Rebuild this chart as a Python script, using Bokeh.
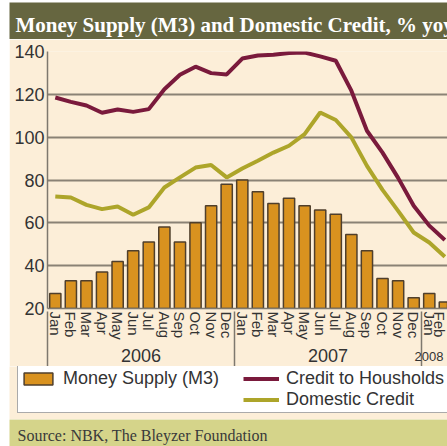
from bokeh.plotting import figure
from bokeh.models import LinearAxis, FixedTicker, Legend, LegendItem, Label
from bokeh.layouts import column
from bokeh.embed import file_html
from bokeh.resources import INLINE

# ---------------- data ----------------
months = ["Jan", "Feb", "Mar", "Apr", "May", "Jun", "Jul", "Aug", "Sep", "Oct", "Nov", "Dec",
          "Jan", "Feb", "Mar", "Apr", "May", "Jun", "Jul", "Aug", "Sep", "Oct", "Nov", "Dec",
          "Jan", "Feb"]
years = ["2006", "2007", "2008"]
money_supply = [27, 33, 33, 37, 42, 47, 51, 58, 51, 60, 68, 78,
                80, 74.5, 69, 71.5, 68, 66, 64, 54.5, 47, 34, 33, 25,
                27, 23]
credit_households = [118.5, 116.5, 114.8, 111.4, 112.9, 111.8, 113.1, 122.4, 129.1, 132.9, 129.9, 129.3,
                     136.7, 138.1, 138.5, 139.3, 139.5, 137.7, 135.7, 121.7, 103, 92.8, 81, 68,
                     58.7, 52]
domestic_credit = [72.3, 71.8, 68.4, 66.4, 67.6, 63.8, 67.2, 76.5, 81.2, 85.8, 87, 81.2,
                   85.4, 89, 92.8, 96, 101.4, 111.5, 108, 99.9, 86.6, 75.4, 65.6, 55.5,
                   50.8, 44.2]
y_ticks = [20, 40, 60, 80, 100, 120, 140]
title_text = "Money Supply (M3) and Domestic Credit, % yoy"
source_text = "Source: NBK, The Bleyzer Foundation"
series_names = ["Money Supply (M3)", "Credit to Housholds", "Domestic Credit"]

# ---------------- styles ----------------
CREAM = "#FCEED8"
HEAD = "#666640"
FOOT = "#D5D48A"
BAR = "#D9921F"
BAR_EDGE = "#4F3F2C"
MAROON = "#7A1A3C"
OLIVE = "#ADA52A"
GRID = "#8A8275"
AXIS = "#7E786E"
TEXT = "#333333"
SANS = "Liberation Sans"
SERIF = "Liberation Serif"

idx = list(range(len(months)))
group_starts = [-0.5, 11.5, 23.5]
year_centers = [5.5, 17.5, 24.5]


def blank_figure(height, fill, **kw):
    f = figure(width=438, height=height, x_axis_type=None, y_axis_type=None,
               output_backend="svg", toolbar_location=None, min_border=0,
               background_fill_color=fill, border_fill_color=fill,
               outline_line_color=None, frame_align=False, **kw)
    return f


# ---------------- header ----------------
header = blank_figure(37, HEAD, margin=(2, 0, 0, 9))
header.add_layout(Label(x=6, y=15, x_units="screen", y_units="screen", text=title_text,
                        text_color="white", text_font=SERIF, text_font_style="bold",
                        text_font_size="21px", text_baseline="middle"))

# ---------------- main chart ----------------
main = figure(width=438, height=327, x_range=(-0.5, 25.17), y_range=(20, 140),
              output_backend="svg", toolbar_location=None,
              min_border_left=38, min_border_top=12, min_border_bottom=58, min_border_right=0,
              background_fill_color=CREAM, border_fill_color=CREAM,
              outline_line_color=None, margin=(0, 0, 0, 9), frame_align=False)

main.xgrid.visible = False
main.ygrid.ticker = FixedTicker(ticks=y_ticks)
main.ygrid.grid_line_color = GRID
main.ygrid.grid_line_width = 2

yax = main.yaxis[0]
yax.ticker = FixedTicker(ticks=y_ticks)
yax.major_tick_out = 0
yax.major_tick_in = 0
yax.minor_tick_out = 0
yax.minor_tick_in = 0
yax.axis_line_color = AXIS
yax.axis_line_width = 1.5
yax.major_label_standoff = 3
yax.major_label_text_font = SANS
yax.major_label_text_font_size = "18px"
yax.major_label_text_color = TEXT

# month labels
xax = main.xaxis[0]
xax.ticker = FixedTicker(ticks=idx)
xax.major_label_overrides = {i: m for i, m in enumerate(months)}
xax.major_label_orientation = "vertical"
xax.major_tick_out = 0
xax.major_tick_in = 0
xax.minor_tick_in = 0
xax.minor_tick_out = 0
xax.axis_line_color = AXIS
xax.axis_line_width = 1.5
xax.major_label_standoff = 3
xax.major_label_text_font = SANS
xax.major_label_text_font_size = "15px"
xax.major_label_text_color = TEXT

# year labels + year separators
year_axis = LinearAxis(ticker=FixedTicker(ticks=year_centers[:2], minor_ticks=group_starts),
                       major_label_overrides={year_centers[0]: years[0], year_centers[1]: years[1]},
                       axis_line_color=None, major_tick_out=0, major_tick_in=0,
                       minor_tick_in=31, minor_tick_out=24,
                       minor_tick_line_color=AXIS, minor_tick_line_width=1.5,
                       major_label_standoff=-18,
                       major_label_text_font=SANS, major_label_text_font_size="18px",
                       major_label_text_color=TEXT)
main.add_layout(year_axis, "below")

# small label for the last (partial) year
year_axis2 = LinearAxis(ticker=FixedTicker(ticks=[year_centers[2]]),
                        major_label_overrides={year_centers[2]: years[2]},
                        axis_line_color=None, major_tick_out=0, major_tick_in=0,
                        minor_tick_in=0, minor_tick_out=0,
                        major_label_standoff=-13,
                        major_label_text_font=SANS, major_label_text_font_size="13px",
                        major_label_text_color=TEXT)
main.add_layout(year_axis2, "below")

main.vbar(x=idx, top=money_supply, width=0.72, fill_color=BAR,
          line_color=BAR_EDGE, line_width=1.5)
main.line(idx, credit_households, line_color=MAROON, line_width=4)
main.line(idx, domestic_credit, line_color=OLIVE, line_width=4)

# ---------------- legend strip ----------------
# the key renderers carry the same series, but the strip's ranges keep them out of view
lfig = blank_figure(53, CREAM, margin=(0, 0, 0, 9), x_range=(-3, -2), y_range=(-3, -2))
k_bar = lfig.vbar(x=idx, top=money_supply, width=0.72, fill_color=BAR,
                  line_color=BAR_EDGE, line_width=1.5)
k_hh = lfig.line(idx, credit_households, line_color=MAROON, line_width=4)
k_dc = lfig.line(idx, domestic_credit, line_color=OLIVE, line_width=4)
k_blank = lfig.line(idx, domestic_credit, line_alpha=0)

legend = Legend(items=[LegendItem(label=series_names[0], renderers=[k_bar]),
                       LegendItem(label=series_names[1], renderers=[k_hh]),
                       LegendItem(label="", renderers=[k_blank]),
                       LegendItem(label=series_names[2], renderers=[k_dc])],
                orientation="horizontal", ncols=2, location=(8, 6),
                padding=2, spacing=0, margin=0, label_standoff=7,
                glyph_width=36, glyph_height=15, label_width=180, label_height=20,
                label_text_font=SANS, label_text_font_size="18px", label_text_color=TEXT,
                border_line_color="#555555", border_line_width=1.5,
                background_fill_color="#FFFFFF", background_fill_alpha=1.0)
lfig.add_layout(legend, "center")

# ---------------- footer ----------------
footer = blank_figure(27, FOOT, margin=(0, 0, 0, 9))
footer.add_layout(Label(x=8, y=11, x_units="screen", y_units="screen", text=source_text,
                        text_color="#3A3A3A", text_font=SERIF, text_font_size="16px",
                        text_baseline="middle"))

layout = column(header, main, lfig, footer, spacing=0)
open("out.html", "w").write(file_html(layout, INLINE))
